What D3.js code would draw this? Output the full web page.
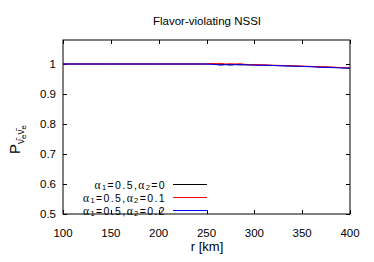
<!DOCTYPE html>
<html><head><meta charset="utf-8">
<script src="https://cdn.jsdelivr.net/npm/d3@7"></script>
<style>
body{margin:0;background:#fff;}
svg{display:block;}
text{font-family:"Liberation Sans",Arial,sans-serif;}
</style></head>
<body><svg id="c" width="374" height="262"></svg>
<script>
const title = "Flavor-violating NSSI";
const xTicks = [100,150,200,250,300,350,400];
const yTicks = [0.5,0.6,0.7,0.8,0.9,1];
const yTickLabels = ["0.5","0.6","0.7","0.8","0.9","1"];
const rValues = [100,150,200,250,255,260,265,270,275,280,285,290,295,300,310,320,330,340,350,360,370,380,390,400];
const pBlack = [1,1,1,1,1.000,0.999,0.999,0.998,0.998,0.998,0.998,0.997,0.997,0.997,0.996,0.995,0.994,0.993,0.992,0.991,0.990,0.989,0.988,0.986];
const pRed   = [1,1,1,1,1.002,1.001,1.002,1.000,1.001,1.000,1.001,0.999,0.998,0.998,0.997,0.996,0.995,0.994,0.993,0.992,0.991,0.990,0.988,0.987];
const pBlue  = [1,1,1,1,0.999,0.998,0.996,0.998,0.996,0.998,0.997,0.998,0.997,0.996,0.996,0.995,0.994,0.993,0.992,0.991,0.989,0.988,0.987,0.986];
const seriesNames = ["0","0.1","0.2"];
const seriesColors = ["#000","#ff0000","#0000ff"];

const svg = d3.select("#c");
const L=63,R=350,T=40,B=214;
const x = d3.scaleLinear().domain([100,400]).range([L,R]);
const y = d3.scaleLinear().domain([0.5,1.08]).range([B,T]);

svg.append("rect").attr("x",L).attr("y",T).attr("width",R-L).attr("height",B-T)
  .attr("fill","none").attr("stroke","#000").attr("stroke-width",1);

const tl=4;
xTicks.forEach(v=>{
  const px=Math.round(x(v))+0.5;
  svg.append("line").attr("x1",px).attr("x2",px).attr("y1",B).attr("y2",B-tl).attr("stroke","#000");
  svg.append("line").attr("x1",px).attr("x2",px).attr("y1",T).attr("y2",T+tl).attr("stroke","#000");
  svg.append("text").attr("x",x(v)).attr("y",237).attr("text-anchor","middle")
    .attr("font-size",11.5).text(v);
});
yTicks.forEach((v,i)=>{
  const py=Math.round(y(v))+0.5;
  svg.append("line").attr("x1",L).attr("x2",L+tl).attr("y1",py).attr("y2",py).attr("stroke","#000");
  svg.append("line").attr("x1",R).attr("x2",R-tl).attr("y1",py).attr("y2",py).attr("stroke","#000");
  svg.append("text").attr("x",56).attr("y",y(v)+4).attr("text-anchor","end")
    .attr("font-size",11.5).text(yTickLabels[i]);
});

svg.append("text").attr("x",207).attr("y",25).attr("text-anchor","middle").attr("font-size",11.5).text(title);
svg.append("text").attr("x",207).attr("y",251).attr("text-anchor","middle").attr("font-size",13).text("r [km]");
const yl = svg.append("text").attr("transform","translate(20,154) rotate(-90)").attr("font-size",15);
yl.append("tspan").text("P");
yl.append("tspan").attr("font-size",10).attr("dy",4).text("ν̄");
yl.append("tspan").attr("font-size",8).attr("dy",2).text("e");
yl.append("tspan").attr("font-size",10).attr("dy",-2).text("ν̄");
yl.append("tspan").attr("font-size",8).attr("dy",2).text("e");

const data=[pBlack,pRed,pBlue];
const line = d3.line().x((d,i)=>x(rValues[i])).y(d=>y(d));
data.forEach((s,k)=>{
  svg.append("path").datum(s).attr("d",line).attr("fill","none")
    .attr("stroke",seriesColors[k]).attr("stroke-width",1);
});

const legY=[184.5,197.5,210.5];
seriesNames.forEach((n,k)=>{
  const t = svg.append("text").attr("x",166).attr("y",legY[k]+4).attr("text-anchor","end")
    .attr("font-size",10.5).attr("letter-spacing",1.4);
  t.append("tspan").attr("font-family","Liberation Serif,serif").attr("font-size",11.5).text("α");
  t.append("tspan").attr("font-size",7.5).attr("dy",1).text("1");
  t.append("tspan").attr("dy",-1).text("=0.5,");
  t.append("tspan").attr("font-family","Liberation Serif,serif").attr("font-size",11.5).text("α");
  t.append("tspan").attr("font-size",7.5).attr("dy",1).text("2");
  t.append("tspan").attr("dy",-1).text("="+n);
  svg.append("line").attr("x1",173).attr("x2",207).attr("y1",legY[k]).attr("y2",legY[k])
    .attr("stroke",seriesColors[k]).attr("stroke-width",1);
});
</script></body></html>
